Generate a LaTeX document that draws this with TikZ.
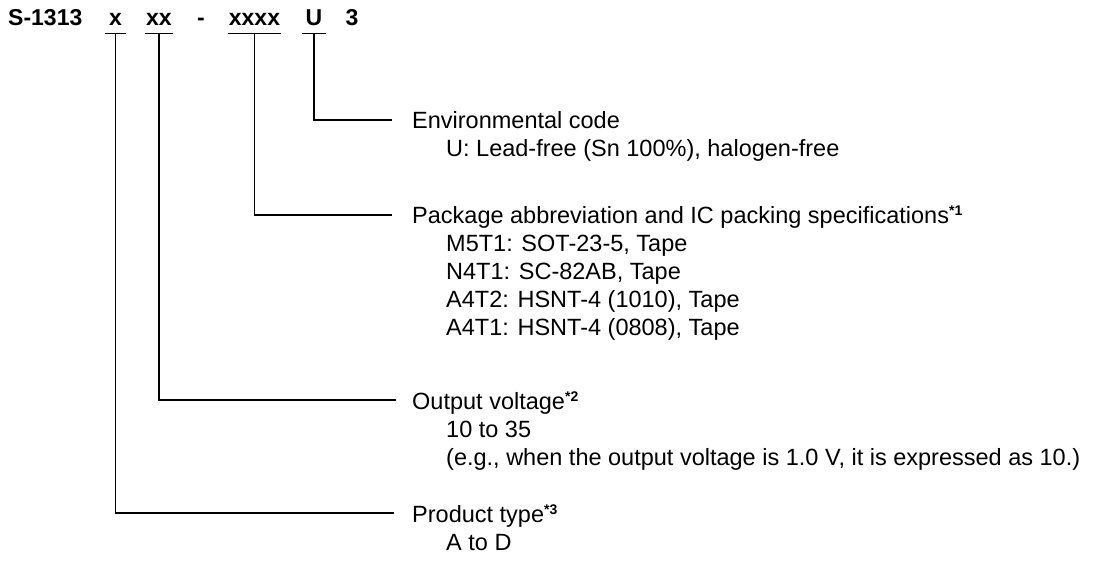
\documentclass[tikz,border=0pt]{standalone}
\usepackage{fontspec}
\setmainfont{Liberation Sans}
\newcommand{\fnmark}[1]{\raisebox{8pt}{\fontsize{14}{14}\selectfont\bfseries *#1}}
\begin{document}
\begin{tikzpicture}[x=1pt,y=-1pt,
  code/.style={inner sep=0pt, font=\fontsize{23}{25}\selectfont\bfseries, anchor=base, text height=17pt, text depth=7pt},
  lbl/.style={inner sep=0pt, anchor=base west, font=\fontsize{23.5}{26}\selectfont},
  wire/.style={line width=1.3pt, black}
]
\useasboundingbox (0,0) rectangle (1103,567);
% header
\node[code, anchor=base west] (pre) at (8,26) {S-1313};
\node[code, minimum width=21pt] (cx) at (115.5,26) {x};
\node[code, minimum width=28pt] (cxx) at (159,26) {xx};
\node[code] (dash) at (201,26) {-};
\node[code, minimum width=53pt] (cxxxx) at (254.5,26) {xxxx};
\node[code, minimum width=24pt] (cu) at (314,26) {U};
\node[code] (c3) at (352,26) {3};
\foreach \n in {cx,cxx,cxxxx,cu} \draw[wire] (\n.south west) -- (\n.south east);

% labels
\node[lbl] (env) at (412,129) {Environmental code};
\node[lbl] (env1) at (446,157) {U: Lead-free (Sn 100\%), halogen-free};

\node[lbl] (pkg) at (412,223) {Package abbreviation and IC packing specifications\fnmark{1}};
\node[lbl] (pkg1) at (446,251) {M5T1: SOT-23-5, Tape};
\node[lbl] (pkg2) at (446,279) {N4T1: SC-82AB, Tape};
\node[lbl] (pkg3) at (446,307) {A4T2: HSNT-4 (1010), Tape};
\node[lbl] (pkg4) at (446,335) {A4T1: HSNT-4 (0808), Tape};

\node[lbl] (out) at (412,409) {Output voltage\fnmark{2}};
\node[lbl] (out1) at (446,437) {10 to 35};
\node[lbl] (out2) at (446,465) {(e.g., when the output voltage is 1.0 V, it is expressed as 10.)};

\node[lbl] (prod) at (412,522) {Product type\fnmark{3}};
\node[lbl] (prod1) at (446,550) {A to D};

% line ends
\coordinate (eenv) at (392,120);
\coordinate (epkg) at (392,215);
\coordinate (eout) at (396,400);
\coordinate (eprod) at (394,513);

\draw[wire] (cu.south) |- (eenv);
\draw[wire] (cxxxx.south) |- (epkg);
\draw[wire] (cxx.south) |- (eout);
\draw[wire] (cx.south) |- (eprod);
\end{tikzpicture}
\end{document}
